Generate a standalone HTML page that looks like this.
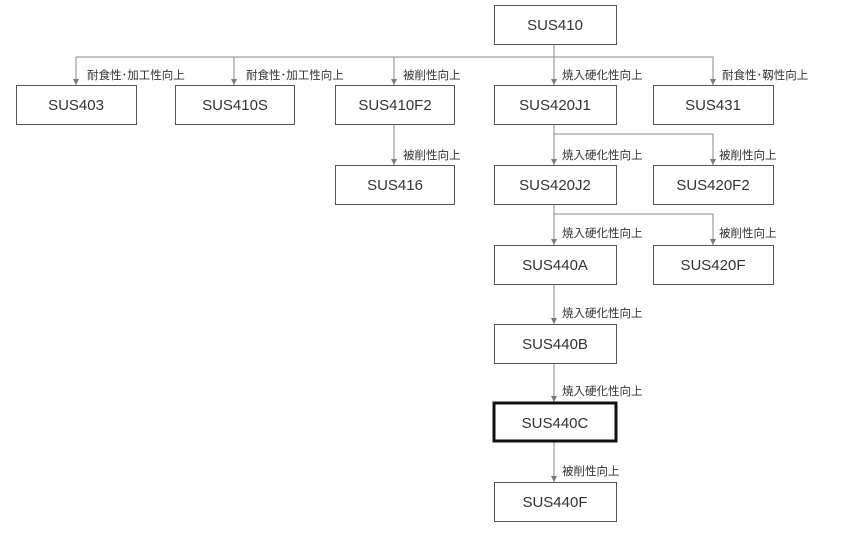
<!DOCTYPE html>
<html><head><meta charset="utf-8"><style>
html,body{margin:0;padding:0;background:#fff;}
svg{display:block;}
text{font-family:"Liberation Sans","Noto Sans CJK JP",sans-serif;fill:#333;}
.b{font-size:15px;text-anchor:middle;}
.l{font-size:11.5px;}
</style></head><body>
<svg width="853" height="535" viewBox="0 0 853 535" xmlns="http://www.w3.org/2000/svg">
<defs><marker id="a" markerWidth="6" markerHeight="6" refX="6" refY="3" orient="auto" markerUnits="userSpaceOnUse"><path d="M0,0 L6,3 L0,6 z" fill="#777"/></marker></defs>
<g stroke="#888" stroke-width="1" fill="none">
<line x1="554" y1="44" x2="554" y2="57"/>
<polyline points="76,57 713,57 713,85" marker-end="url(#a)"/>
<line x1="76" y1="57" x2="76" y2="85" marker-end="url(#a)"/>
<line x1="234" y1="57" x2="234" y2="85" marker-end="url(#a)"/>
<line x1="394" y1="57" x2="394" y2="85" marker-end="url(#a)"/>
<line x1="554" y1="57" x2="554" y2="85" marker-end="url(#a)"/>
<line x1="394" y1="124" x2="394" y2="165" marker-end="url(#a)"/>
<polyline points="554,124 554,134 713,134 713,165" marker-end="url(#a)"/>
<line x1="554" y1="134" x2="554" y2="165" marker-end="url(#a)"/>
<polyline points="554,204 554,214 713,214 713,245" marker-end="url(#a)"/>
<line x1="554" y1="214" x2="554" y2="245" marker-end="url(#a)"/>
<line x1="554" y1="284" x2="554" y2="324" marker-end="url(#a)"/>
<line x1="554" y1="363" x2="554" y2="402" marker-end="url(#a)"/>
<line x1="554" y1="441" x2="554" y2="482" marker-end="url(#a)"/>
</g>
<g stroke="#555" stroke-width="1" fill="#fff">
<rect x="494.5" y="5.5" width="122" height="39"/>
<rect x="16.5" y="85.5" width="120" height="39"/>
<rect x="175.5" y="85.5" width="119" height="39"/>
<rect x="335.5" y="85.5" width="119" height="39"/>
<rect x="494.5" y="85.5" width="122" height="39"/>
<rect x="653.5" y="85.5" width="120" height="39"/>
<rect x="335.5" y="165.5" width="119" height="39"/>
<rect x="494.5" y="165.5" width="122" height="39"/>
<rect x="653.5" y="165.5" width="120" height="39"/>
<rect x="494.5" y="245.5" width="122" height="39"/>
<rect x="653.5" y="245.5" width="120" height="39"/>
<rect x="494.5" y="324.5" width="122" height="39"/>
<rect x="494" y="403" width="122" height="38" stroke="#111" stroke-width="3"/>
<rect x="494.5" y="482.5" width="122" height="39"/>
</g>
<text class="b" x="555" y="30">SUS410</text>
<text class="b" x="76" y="110">SUS403</text>
<text class="b" x="235" y="110">SUS410S</text>
<text class="b" x="395" y="110">SUS410F2</text>
<text class="b" x="555" y="110">SUS420J1</text>
<text class="b" x="713" y="110">SUS431</text>
<text class="b" x="395" y="190">SUS416</text>
<text class="b" x="555" y="190">SUS420J2</text>
<text class="b" x="713" y="190">SUS420F2</text>
<text class="b" x="555" y="270">SUS440A</text>
<text class="b" x="713" y="270">SUS420F</text>
<text class="b" x="555" y="349">SUS440B</text>
<text class="b" x="555" y="428">SUS440C</text>
<text class="b" x="555" y="507">SUS440F</text>
<text class="l" x="87" y="79">耐食性･加工性向上</text>
<text class="l" x="246" y="79">耐食性･加工性向上</text>
<text class="l" x="403" y="79">被削性向上</text>
<text class="l" x="562" y="79">焼入硬化性向上</text>
<text class="l" x="722" y="79">耐食性･靱性向上</text>
<text class="l" x="403" y="159">被削性向上</text>
<text class="l" x="562" y="159">焼入硬化性向上</text>
<text class="l" x="719" y="159">被削性向上</text>
<text class="l" x="562" y="237">焼入硬化性向上</text>
<text class="l" x="719" y="237">被削性向上</text>
<text class="l" x="562" y="317">焼入硬化性向上</text>
<text class="l" x="562" y="395">焼入硬化性向上</text>
<text class="l" x="562" y="475">被削性向上</text>
</svg>
</body></html>
